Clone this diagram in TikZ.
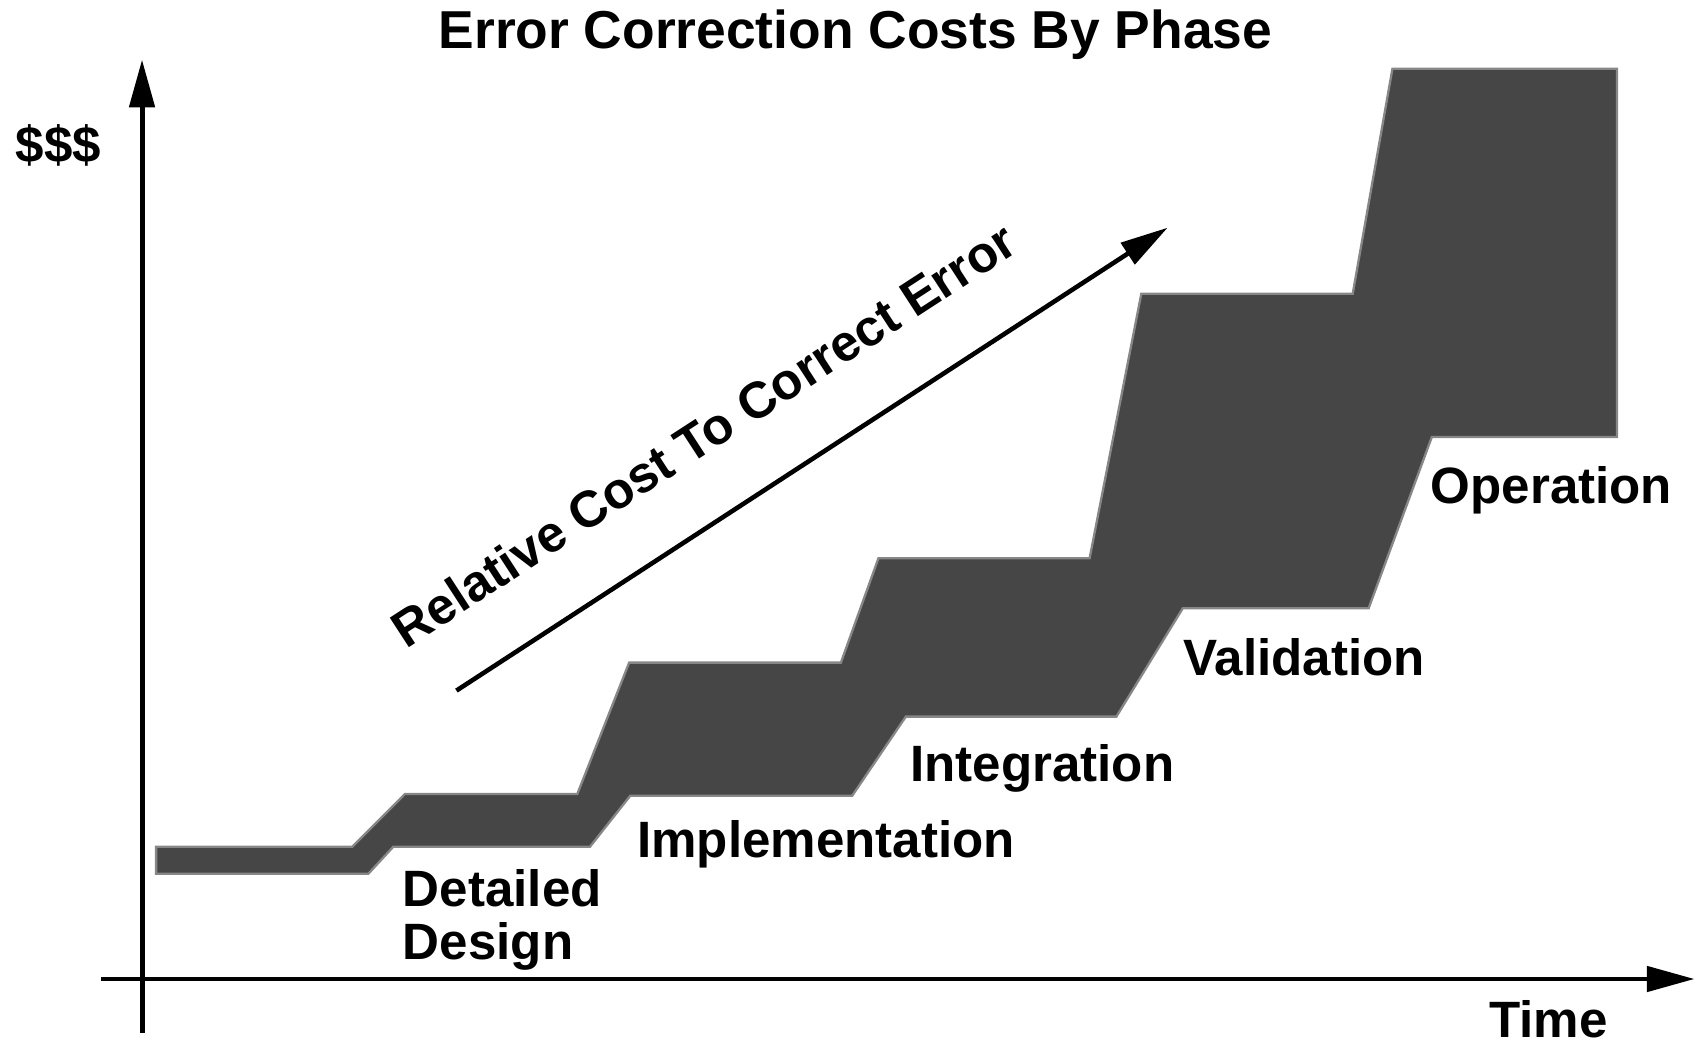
\documentclass[tikz,border=0pt]{standalone}
\usepackage{fontspec}
\setmainfont{Liberation Sans}
\usepackage{tikz}
\usetikzlibrary{arrows.meta}
\definecolor{bandgray}{RGB}{70, 70, 70}
\definecolor{bandedge}{RGB}{135, 135, 135}

\begin{document}
\begin{tikzpicture}[x={(0.01cm,0cm)}, y={(0cm,-0.01cm)},
  axis/.style={line width=1.3pt, -{Triangle[length=4.4mm, width=2.3mm]}},
  phase/.style={anchor=base west, inner sep=0pt, font=\fontsize{13.4}{16}\selectfont\bfseries},
  band/.style={fill=bandgray, draw=bandedge, line width=0.6pt, line join=miter}]
  \useasboundingbox (0,0) rectangle (1568,962);

  % Title
  \node[anchor=base, inner sep=0pt, font=\fontsize{14}{17}\selectfont\bfseries] (title) at (789, 45) {Error Correction Costs By Phase};

  % Axes
  \coordinate (ybot) at (131, 953);
  \coordinate (ytop) at (131, 55);
  \coordinate (xleft) at (93, 903);
  \coordinate (xright) at (1563, 903);
  \draw[axis] (ybot) -- (ytop);
  \draw[axis] (xleft) -- (xright);
  \node[phase] (dollars) at (14, 150) {\$\$\$};
  \node[phase] (time) at (1373, 957) {Time};

  % Cost band
  \draw[band] (144,781) -- (325,781) -- (373.5,732.3) -- (532.5,732.3)
    -- (580.3,611.2) -- (775.6,611.2) -- (810.2,515) -- (1005,515)
    -- (1052.7,270.9) -- (1247.7,270.9) -- (1284.3,63.4) -- (1491.4,63.4)
    -- (1491.4,403) -- (1320.7,403) -- (1262.4,561) -- (1091,561)
    -- (1029.7,661) -- (835.5,661) -- (786.1,733.9) -- (581.4,733.9)
    -- (544.2,781) -- (362.8,781) -- (339.7,806) -- (144,806) -- cycle;

  % Phase labels
  \node[phase] (detailed) at (371, 836) {Detailed};
  \node[phase] (design) at (371, 885) {Design};
  \node[phase] (impl) at (587, 791) {Implementation};
  \node[phase] (integ) at (839, 721) {Integration};
  \node[phase] (valid) at (1091, 623) {Validation};
  \node[phase] (oper) at (1319, 464) {Operation};

  % Trend arrow
  \coordinate (tstart) at (421, 637);
  \coordinate (tend) at (1077, 210);
  \draw[axis, line width=1.2pt] (tstart) -- (tend);
  \node[phase, anchor=base, rotate=33] (trend) at (658, 415) {Relative Cost To Correct Error};
\end{tikzpicture}
\end{document}
